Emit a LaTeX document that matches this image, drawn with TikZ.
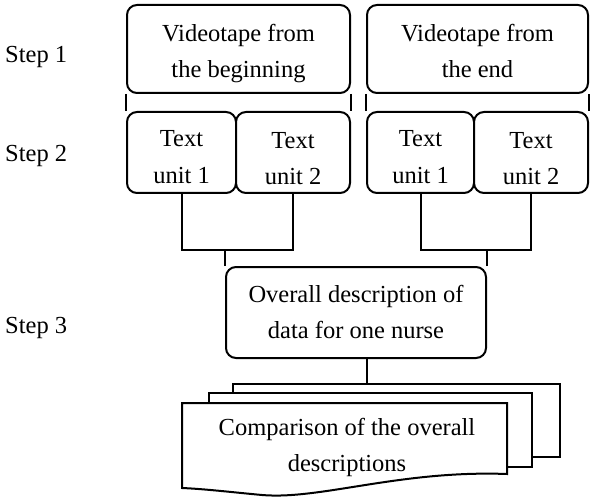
\documentclass[tikz,border=0pt]{standalone}
\usepackage{fontspec}
\setmainfont{Liberation Serif}
\usetikzlibrary{calc}
\begin{document}
\begin{tikzpicture}[x=1pt,y=-1pt,
  every node/.style={font=\fontsize{24.5}{36.5}\selectfont},
  box/.style={draw, line width=2pt, rounded corners=10pt, fill=white, inner sep=0pt},
  txt/.style={align=center, inner sep=0pt},
  conn/.style={line width=2pt},
  doc/.style={draw, line width=2pt, fill=white, line join=miter},
  lbl/.style={anchor=base west, inner sep=0pt}]
\useasboundingbox (0,0) rectangle (592,500);
% step labels
\node[lbl] (s1) at (5,63) {Step 1};
\node[lbl] (s2) at (5,162) {Step 2};
\node[lbl] (s3) at (5,333) {Step 3};
% top boxes
\node[box, minimum width=223pt, minimum height=88pt] (vb) at (238.5,49) {};
\node[txt] (vbt) at (238.5,53.5) {Videotape from\\the beginning};
\node[box, minimum width=221pt, minimum height=88pt] (ve) at (477.5,49) {};
\node[txt] (vet) at (477.5,51) {Videotape from\\the end};
% text units
\node[box, minimum width=109pt, minimum height=81pt] (t1) at (181.5,152.5) {};
\node[txt] (t1t) at (181.5,157) {Text\\unit 1};
\node[box, minimum width=114pt, minimum height=81pt] (t2) at (293,152.5) {};
\node[txt] (t2t) at (293,158.5) {Text\\unit 2};
\node[box, minimum width=107pt, minimum height=81pt] (t3) at (420.5,152.5) {};
\node[txt] (t3t) at (420.5,157) {Text\\unit 1};
\node[box, minimum width=114pt, minimum height=81pt] (t4) at (531,152.5) {};
\node[txt] (t4t) at (531,158.5) {Text\\unit 2};
% connectors top -> units
\draw[conn] (vb.south west) -- (t1.north west);
\draw[conn] (vb.south east) -- (t2.north east);
\draw[conn] (ve.south west) -- (t3.north west);
\draw[conn] (ve.south east) -- (t4.north east);
% overall box
\node[box, minimum width=260pt, minimum height=91pt] (ov) at (356,312.5) {};
\node[txt] (ovt) at (356,312) {Overall description of\\data for one nurse};
% units -> overall
\coordinate (h1) at ($(t1.south)+(0,56)$);
\coordinate (h2) at ($(t3.south)+(0,56)$);
\draw[conn] (t1.south) -- (h1) -| (t2.south);
\draw[conn] (t3.south) -- (h2) -| (t4.south);
\draw[conn] (ov.north west) -- (ov.north west |- h1);
\draw[conn] (ov.north east) -- (ov.north east |- h2);
% documents
\coordinate (dtop) at (367,384);
\draw[conn] ([xshift=11pt]ov.south) -- (dtop);
\draw[doc] (233,384) -- (560,384) -- (560,457) -- (233,457) -- cycle;
\draw[doc] (209,393) -- (532,393) -- (532,467) -- (209,467) -- cycle;
\draw[doc] (182,403) -- (507,403) -- (507,474) .. controls (400,470) and (320,500) .. (262,495) .. controls (230,492) and (205,489) .. (182,488) -- cycle;
\node[txt] (cmp) at (347,447.5) {Comparison of the overall\\descriptions};
\end{tikzpicture}
\end{document}
